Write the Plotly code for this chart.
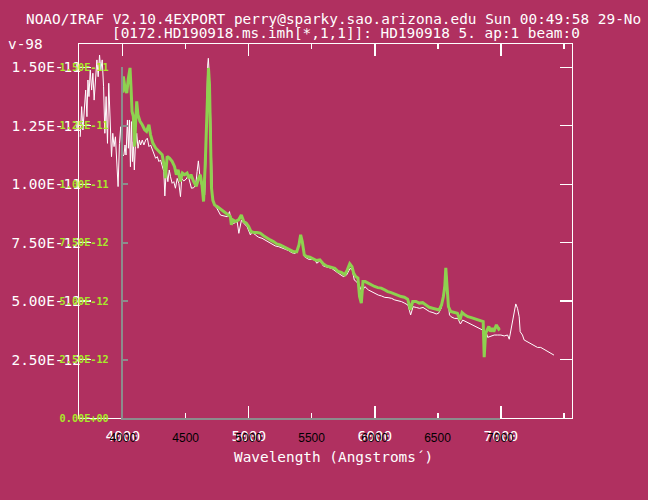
import numpy as np
import plotly.graph_objects as go

# ---------------- data (flux in units of 1e-12 erg/s/cm2/A) ----------------
white_wave = [3663, 3674, 3684, 3694, 3706, 3716, 3724, 3732, 3742, 3753, 3763, 3773, 3784, 3795,
              3805, 3816, 3826, 3837, 3848, 3858, 3868, 3879, 3889, 3900, 3911, 3921, 3931, 3942,
              3953, 3963, 3974, 3984, 3994, 4010, 4018, 4026, 4037, 4045, 4053, 4061, 4069, 4077,
              4084, 4092, 4100, 4111, 4121, 4132, 4142, 4155, 4168, 4182, 4195, 4208, 4221, 4234,
              4247, 4261, 4274, 4287, 4300, 4313, 4326, 4334, 4345, 4358, 4369, 4379, 4392, 4405,
              4418, 4432, 4445, 4458, 4468, 4484, 4503, 4519, 4532, 4545, 4563, 4579, 4590, 4600,
              4611, 4624, 4637, 4650, 4658, 4666, 4674, 4679, 4687, 4695, 4703, 4711, 4726, 4747,
              4776, 4803, 4829, 4847, 4863, 4882, 4908, 4921, 4942, 4961, 4987, 5013, 5026, 5052,
              5079, 5105, 5131, 5158, 5184, 5210, 5237, 5263, 5289, 5316, 5342, 5368, 5395, 5411,
              5427, 5442, 5474, 5500, 5526, 5539, 5566, 5592, 5618, 5645, 5658, 5711, 5750, 5776,
              5803, 5821, 5837, 5855, 5881, 5895, 5921, 5948, 5974, 6000, 6027, 6053, 6079, 6105,
              6132, 6158, 6184, 6211, 6237, 6263, 6284, 6303, 6329, 6355, 6382, 6408, 6434, 6461,
              6487, 6505, 6526, 6545, 6558, 6566, 6579, 6592, 6605, 6632, 6658, 6679, 6697, 6724,
              6750, 6776, 6803, 6829, 6855, 6882, 6895, 6921, 6947, 6974, 7000, 7026, 7053, 7066,
              7079, 7092, 7105, 7118, 7132, 7145, 7153, 7171, 7184, 7211, 7237, 7263, 7290, 7316,
              7342, 7368, 7395, 7421]
white_flux = [12.03, 13.32, 12.32, 13.04, 14.03, 12.89, 14.46, 13.75, 14.89, 14.03, 14.75, 13.60, 14.46, 15.32,
              14.60, 15.53, 14.89, 15.32, 14.17, 12.18, 13.75, 11.75, 14.32, 12.46, 11.18, 12.18, 11.61, 12.03,
              11.04, 9.90, 11.75, 12.46, 11.18, 11.25, 11.68, 11.25, 12.75, 11.54, 12.75, 10.75, 12.68, 10.97,
              11.82, 10.61, 11.61, 12.18, 11.54, 11.89, 11.68, 11.89, 11.68, 11.89, 11.97, 11.61, 11.68, 11.47,
              11.32, 11.11, 11.18, 10.97, 11.04, 10.82, 10.54, 9.50, 10.61, 10.11, 10.61, 10.32, 10.04, 10.11,
              9.83, 10.25, 10.04, 9.47, 10.25, 10.14, 10.22, 10.37, 10.14, 9.83, 9.85, 9.97, 10.54, 11.00,
              10.40, 9.97, 9.75, 9.54, 10.82, 13.39, 15.10, 15.39, 14.67, 13.39, 11.54, 9.54, 9.11, 8.97,
              8.68, 8.64, 8.61, 8.83, 8.33, 8.33, 8.40, 7.90, 8.47, 8.33, 8.18, 7.83, 7.97, 7.83,
              7.73, 7.69, 7.61, 7.54, 7.47, 7.36, 7.33, 7.26, 7.22, 7.16, 7.07, 7.04, 7.30, 7.76,
              7.47, 6.90, 6.79, 6.79, 6.76, 6.62, 6.73, 6.50, 6.45, 6.40, 6.40, 6.19, 6.05, 6.12,
              6.40, 6.33, 5.90, 5.83, 5.62, 5.40, 5.62, 5.48, 5.40, 5.33, 5.26, 5.22, 5.16, 5.15,
              5.12, 5.05, 5.02, 4.98, 4.91, 4.83, 4.41, 4.76, 4.73, 4.69, 4.73, 4.65, 4.55, 4.51,
              4.45, 4.48, 4.69, 5.26, 6.05, 6.33, 5.19, 4.41, 4.33, 4.26, 4.26, 4.02, 4.19, 4.12,
              4.05, 3.98, 3.91, 3.84, 3.76, 3.69, 3.45, 3.51, 3.55, 3.55, 3.55, 3.51, 3.55, 3.37,
              3.76, 4.19, 4.62, 4.88, 4.69, 4.33, 3.69, 3.55, 3.34, 3.26, 3.19, 3.12, 3.02, 3.02,
              2.94, 2.88, 2.79, 2.69]

green_wave = [4001, 4005, 4018, 4032, 4045, 4058, 4066, 4074, 4084, 4095, 4103, 4111, 4121, 4137, 4155,
              4174, 4189, 4208, 4221, 4239, 4261, 4287, 4313, 4332, 4339, 4353, 4371, 4392, 4411, 4426,
              4440, 4458, 4474, 4492, 4511, 4526, 4542, 4563, 4584, 4603, 4616, 4629, 4642, 4655, 4668,
              4681, 4689, 4697, 4705, 4716, 4730, 4750, 4776, 4803, 4829, 4855, 4863, 4874, 4895, 4921,
              4942, 4961, 4981, 5000, 5018, 5039, 5066, 5092, 5118, 5145, 5171, 5197, 5224, 5250, 5276,
              5303, 5329, 5355, 5382, 5400, 5413, 5426, 5442, 5461, 5487, 5513, 5539, 5566, 5592, 5618,
              5645, 5658, 5684, 5711, 5737, 5763, 5784, 5803, 5821, 5834, 5850, 5868, 5881, 5895, 5908,
              5926, 5947, 5974, 6000, 6026, 6053, 6079, 6105, 6132, 6158, 6184, 6211, 6237, 6263, 6276,
              6284, 6303, 6329, 6355, 6382, 6408, 6434, 6461, 6487, 6513, 6532, 6547, 6558, 6566, 6576,
              6587, 6605, 6632, 6658, 6679, 6695, 6716, 6742, 6769, 6795, 6821, 6842, 6863, 6868, 6871,
              6882, 6895, 6908, 6921, 6934, 6947, 6968, 6987, 7000]
green_flux = [13.90, 14.60, 14.10, 13.89, 14.53, 14.96, 14.10, 13.10, 12.89, 11.60, 12.68, 13.53, 12.96, 12.68, 12.53,
              12.32, 12.25, 12.53, 12.10, 11.75, 11.54, 11.39, 11.25, 10.70, 10.25, 11.18, 11.11, 10.97, 10.75, 10.40,
              10.61, 10.11, 10.47, 10.40, 10.47, 10.25, 10.40, 10.11, 9.90, 10.25, 10.40, 9.97, 9.25, 10.82, 13.39,
              14.96, 14.25, 11.97, 9.83, 9.30, 9.10, 9.04, 8.93, 8.83, 8.68, 8.61, 8.26, 8.47, 8.40, 8.47,
              8.68, 8.40, 8.33, 8.18, 7.97, 7.93, 7.93, 7.90, 7.79, 7.69, 7.61, 7.54, 7.44, 7.40, 7.33,
              7.26, 7.19, 7.11, 7.11, 7.40, 7.83, 7.54, 6.97, 6.90, 6.87, 6.79, 6.73, 6.76, 6.59, 6.50,
              6.47, 6.45, 6.40, 6.26, 6.22, 6.12, 6.33, 6.59, 6.47, 6.19, 6.05, 5.98, 5.19, 4.91, 5.83,
              5.83, 5.76, 5.69, 5.62, 5.57, 5.55, 5.48, 5.40, 5.36, 5.30, 5.26, 5.19, 5.16, 5.08, 4.83,
              4.62, 4.98, 4.98, 4.91, 4.93, 4.83, 4.73, 4.69, 4.65, 4.62, 4.83, 5.19, 5.62, 6.42, 5.62,
              4.76, 4.55, 4.51, 4.48, 4.19, 4.51, 4.41, 4.33, 4.29, 4.24, 4.19, 4.16, 4.12, 3.19, 2.60,
              3.62, 3.76, 3.91, 3.69, 3.84, 3.69, 3.98, 3.79, 3.84]

flux_ticks = [0.0, 2.5, 5.0, 7.5, 10.0, 12.5, 15.0]
flux_tick_text = ["0.00E+00", "2.50E-12", "5.00E-12", "7.50E-12", "1.00E-11", "1.25E-11", "1.50E-11"]
wave_ticks_major = [4000, 5000, 6000, 7000]
wave_ticks_overlay = [4000, 4500, 5000, 5500, 6000, 6500, 7000]

title_line1 = "NOAO/IRAF V2.10.4EXPORT perry@sparky.sao.arizona.edu Sun 00:49:58 29-No"
title_wrap = "v-98"
title_line2 = "[0172.HD190918.ms.imh[*,1,1]]: HD190918 5. ap:1 beam:0"
x_title = "Wavelength (Angstroms\u00b4)"

# ---------------- styling ----------------
BG = "#B03060"
WHITE = "#FFFFFF"
GREEN_LINE = "#8ED14F"
GREEN_TXT = "#A8E82A"
GRAY = "#8C8C8C"
MONO = "DejaVu Sans Mono"

W, H = 648, 500
L, R, T, B = 76, 572, 44, 418     # white frame in pixels
pw, ph = R - L, B - T

def px_x(p):
    return (p - L) / pw

def px_y(p):
    return (B - p) / ph

scale = 1e-12
wf = np.array(white_flux) * scale
gf = np.array(green_flux) * scale
yt = [v * scale for v in flux_ticks]

fig = go.Figure()
fig.add_trace(go.Scatter(x=white_wave, y=wf, mode="lines",
                         line=dict(color=WHITE, width=1), xaxis="x", yaxis="y",
                         showlegend=False, hoverinfo="skip"))
fig.add_trace(go.Scatter(x=green_wave, y=gf, mode="lines",
                         line=dict(color=GREEN_LINE, width=3), xaxis="x2", yaxis="y2",
                         showlegend=False, hoverinfo="skip"))

fig.update_layout(
    width=W, height=H,
    margin=dict(l=L, r=W - R, t=T, b=H - B, pad=0),
    paper_bgcolor=BG, plot_bgcolor="rgba(0,0,0,0)",
    showlegend=False,
    xaxis=dict(domain=[0, 1], range=[3653, 7564], anchor="y",
               showline=True, linecolor=WHITE, linewidth=1.3, mirror="ticks",
               ticks="inside", ticklen=12, tickwidth=1.3, tickcolor=WHITE,
               tickvals=wave_ticks_major,
               minor=dict(dtick=500, tick0=4000, ticks="inside", ticklen=5, tickcolor=WHITE, tickwidth=1.3, showgrid=False),
               tickfont=dict(family=MONO, size=14.4, color=WHITE),
               ticklabelstandoff=4,
               showgrid=False, zeroline=False),
    yaxis=dict(domain=[0, 1], range=[0, 16 * scale], anchor="x",
               showline=True, linecolor=WHITE, linewidth=1.3, mirror="ticks",
               ticks="inside", ticklen=12, tickwidth=1.3, tickcolor=WHITE,
               tickvals=yt[1:], ticktext=flux_tick_text[1:],
               tickfont=dict(family=MONO, size=14.4, color=WHITE),
               ticklabelstandoff=-6,
               showgrid=False, zeroline=False),
    xaxis2=dict(domain=[px_x(120), px_x(500)], range=[4000, 7000], anchor="y2",
                showline=True, linecolor=GRAY, linewidth=2,
                ticks="", tickvals=wave_ticks_overlay,
                tickfont=dict(family="Liberation Sans", size=12, color="#000000"),
                ticklabelstandoff=8,
                showgrid=False, zeroline=False),
    yaxis2=dict(domain=[0, px_y(67)], range=[0, 15 * scale], anchor="x2",
                showline=True, linecolor=GRAY, linewidth=2,
                ticks="inside", ticklen=5, tickwidth=2, tickcolor=GRAY,
                tickvals=yt, ticktext=flux_tick_text,
                tickfont=dict(family=MONO, size=10.2, color=GREEN_TXT, weight="bold"),
                ticklabelstandoff=10,
                showgrid=False, zeroline=False),
)

ann_font = dict(family=MONO, size=14.4, color=WHITE)
fig.add_annotation(text=title_line1, xref="paper", yref="paper", x=px_x(21), y=px_y(19),
                   xanchor="left", yanchor="middle", showarrow=False, font=ann_font)
fig.add_annotation(text=title_line2, xref="paper", yref="paper", x=px_x(107), y=px_y(33),
                   xanchor="left", yanchor="middle", showarrow=False, font=ann_font)
fig.add_annotation(text=title_wrap, xref="paper", yref="paper", x=px_x(3), y=px_y(44),
                   xanchor="left", yanchor="middle", showarrow=False, font=ann_font)
fig.add_annotation(text=x_title, xref="paper", yref="paper", x=px_x(332), y=px_y(457),
                   xanchor="center", yanchor="middle", showarrow=False, font=ann_font)

fig.write_html("out.html", config={"displayModeBar": False, "staticPlot": True},
               post_script="document.body.style.margin='0px';")
